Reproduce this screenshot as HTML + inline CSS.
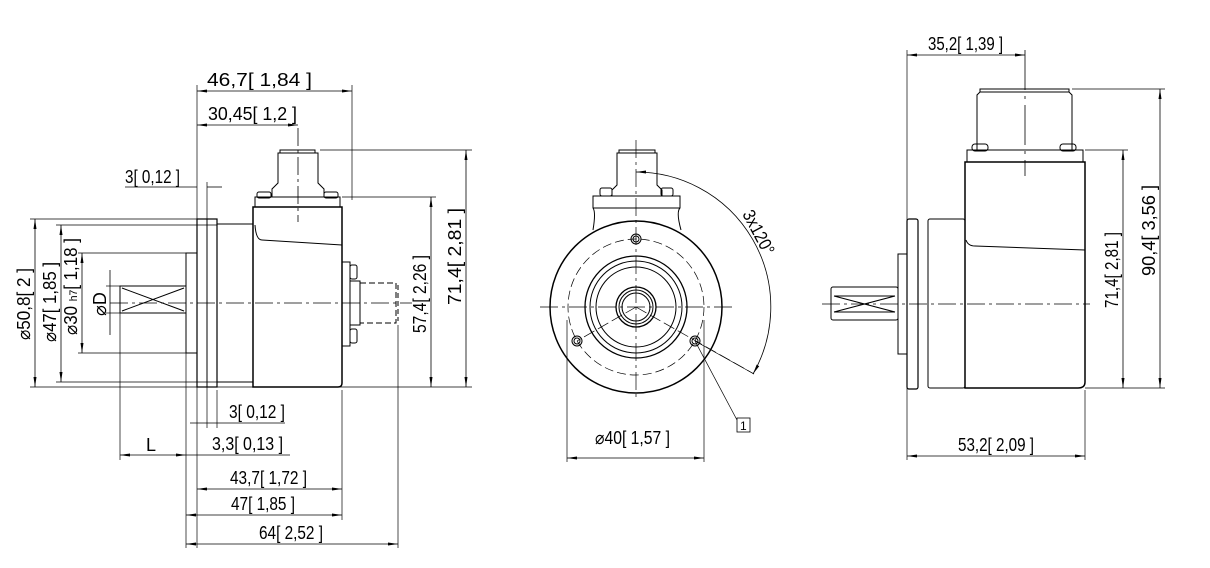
<!DOCTYPE html>
<html><head><meta charset="utf-8"><style>
html,body{margin:0;padding:0;background:#fff;}
svg{display:block;font-family:"Liberation Sans",sans-serif;}
</style></head><body>
<svg width="1210" height="568" viewBox="0 0 1210 568" xmlns="http://www.w3.org/2000/svg">
<defs>
<marker id="a" markerWidth="10" markerHeight="6" refX="10" refY="3" orient="auto-start-reverse" markerUnits="userSpaceOnUse"><path d="M0,1.5 L10,3 L0,4.5 Z" fill="#000"/></marker>
</defs>
<g fill="none" stroke="#000" stroke-width="1">
<!-- LEFT VIEW -->
<line x1="110" y1="303" x2="412" y2="303" stroke-dasharray="18,4,3,4" stroke-width="0.8"/>
<rect x="120" y="286" width="66" height="27"/>
<line x1="122" y1="288" x2="184" y2="311"/><line x1="122" y1="311" x2="184" y2="288"/>
<rect x="186" y="253" width="11" height="100"/>
<rect x="197" y="219" width="20" height="168" stroke-width="1.2"/>
<line x1="207" y1="219" x2="207" y2="387"/>
<rect x="217" y="224" width="36" height="158"/>
<path d="M253,207 H342 V383 Q342,387 338,387 H253 Z" stroke-width="1.5"/>
<path d="M255,225 Q256,240 262,240 L342,245"/>
<rect x="255" y="197" width="85" height="10"/>
<rect x="257" y="192" width="14" height="6" rx="2"/><rect x="324" y="192" width="14" height="6" rx="2"/>
<path d="M272,197 V189 L278,183 V153 H318 V183 L324,189 V197"/>
<rect x="280" y="150" width="35" height="3"/>
<rect x="342" y="262" width="8" height="84"/>
<rect x="350" y="265" width="7" height="14" rx="2"/><rect x="350" y="329" width="7" height="14" rx="2"/>
<rect x="350" y="281" width="10" height="44"/>
<path d="M360,283 H396 V323 H360" stroke-dasharray="6,3"/>
<line x1="398" y1="285" x2="398" y2="321" stroke-dasharray="5,3"/>
<line x1="298" y1="128" x2="298" y2="222" stroke-dasharray="18,4,3,4" stroke-width="0.8"/>
<g stroke-width="0.7">
<line x1="197" y1="85" x2="197" y2="548"/><line x1="352" y1="85" x2="352" y2="200"/>
<line x1="207" y1="182" x2="207" y2="428"/><line x1="217" y1="390" x2="217" y2="428"/>
<line x1="186" y1="353" x2="186" y2="548"/><line x1="120" y1="313" x2="120" y2="460"/>
<line x1="342" y1="390" x2="342" y2="520"/><line x1="398" y1="325" x2="398" y2="548"/>
<line x1="320" y1="150" x2="472" y2="150"/><line x1="342" y1="197" x2="436" y2="197"/>
<line x1="30" y1="387" x2="472" y2="387"/><line x1="30" y1="219" x2="197" y2="219"/>
<line x1="56" y1="225" x2="217" y2="225"/><line x1="56" y1="382" x2="217" y2="382"/>
<line x1="78" y1="253" x2="186" y2="253"/><line x1="78" y1="353" x2="186" y2="353"/>
<line x1="106" y1="286" x2="120" y2="286"/><line x1="106" y1="313" x2="120" y2="313"/>
</g>
<g stroke-width="0.8" marker-start="url(#a)" marker-end="url(#a)">
<line x1="197" y1="91" x2="352" y2="91"/>
<line x1="197" y1="125" x2="298" y2="125"/>
<line x1="35" y1="219" x2="35" y2="387"/>
<line x1="61" y1="225" x2="61" y2="382"/>
<line x1="82" y1="253" x2="82" y2="353"/>
<line x1="431" y1="197" x2="431" y2="387"/>
<line x1="466" y1="150" x2="466" y2="387"/>
<line x1="197" y1="489" x2="342" y2="489"/>
<line x1="186" y1="515" x2="342" y2="515"/>
<line x1="186" y1="544" x2="398" y2="544"/>
<line x1="120" y1="455" x2="186" y2="455"/>
</g>
<g stroke-width="0.8">
<line x1="110" y1="270" x2="110" y2="335"/>
<line x1="125" y1="187" x2="197" y2="187"/><line x1="207" y1="187" x2="222" y2="187"/>
<line x1="186" y1="455" x2="290" y2="455"/>
<line x1="190" y1="423" x2="285" y2="423"/>
</g>
<!-- MIDDLE VIEW -->
<path d="M593,230 Q596,212 593,208 V196 H680 V208 Q676,212 681,230" />
<path d="M593,208 H680" />
<rect x="600" y="188" width="12" height="8" rx="2"/><rect x="661" y="188" width="12" height="8" rx="2"/>
<path d="M612,196 V190 L617,185 V153 H657 V185 L662,190 V196"/>
<rect x="619" y="150" width="36" height="3"/>
<circle cx="636" cy="307" r="86" fill="#fff" stroke-width="1.5"/>
<circle cx="636" cy="307" r="68" stroke-dasharray="9,4" stroke-width="0.7"/>
<circle cx="636" cy="307" r="51" stroke-width="1.3"/>
<circle cx="636" cy="307" r="46"/>
<circle cx="636" cy="307" r="40"/>
<circle cx="636" cy="307" r="20" stroke-width="1.3"/>
<circle cx="636" cy="307" r="17"/>
<circle cx="636" cy="307" r="14"/>
<circle cx="636" cy="239" r="5"/><circle cx="636" cy="239" r="3"/>
<circle cx="577" cy="341" r="5"/><circle cx="577" cy="341" r="3"/>
<circle cx="695" cy="341" r="5"/><circle cx="695" cy="341" r="3"/>
<g stroke-width="0.7">
<line x1="540" y1="307" x2="732" y2="307" stroke-dasharray="18,4,3,4"/>
<line x1="636" y1="140" x2="636" y2="400" stroke-dasharray="18,4,3,4"/>
<line x1="636" y1="307" x2="577" y2="341" stroke-dasharray="12,4"/>
<line x1="636" y1="307" x2="754" y2="374" stroke-dasharray="12,4"/>
<line x1="695" y1="341" x2="754" y2="374"/>
<line x1="695" y1="341" x2="737" y2="420"/>
<line x1="567" y1="320" x2="567" y2="462"/><line x1="704" y1="320" x2="704" y2="462"/>
</g>
<path d="M636,172 A135,135 0 0 1 753,374" stroke-width="0.8" marker-start="url(#a)" marker-end="url(#a)"/>
<line x1="567" y1="458" x2="704" y2="458" stroke-width="0.8" marker-start="url(#a)" marker-end="url(#a)"/>
<rect x="737" y="418" width="13" height="14" stroke-width="0.8"/>
<!-- RIGHT VIEW -->
<line x1="822" y1="304" x2="1090" y2="304" stroke-dasharray="18,4,3,4" stroke-width="0.8"/>
<line x1="1025" y1="50" x2="1025" y2="176" stroke-dasharray="40,6,3,6" stroke-width="0.8"/>
<rect x="831" y="287" width="67" height="33" rx="2"/>
<line x1="834" y1="296" x2="895" y2="312"/><line x1="834" y1="312" x2="895" y2="296"/>
<line x1="834" y1="296" x2="895" y2="296"/><line x1="834" y1="312" x2="895" y2="312"/>
<rect x="898" y="254" width="9" height="100"/>
<rect x="907" y="219" width="11" height="170" rx="2" stroke-width="1.2"/>
<rect x="928" y="219" width="37" height="169" rx="2"/>
<path d="M965,162 H1085 V382 Q1085,388 1078,388 H965 Z" stroke-width="1.5"/>
<path d="M966,240 Q968,246 975,246 L1085,250"/>
<rect x="967" y="150" width="116" height="12"/>
<rect x="972" y="144" width="16" height="7" rx="3"/><rect x="1060" y="144" width="16" height="7" rx="3"/>
<path d="M977,150 V95 L980,92 H1069 L1072,95 V150"/>
<rect x="980" y="89" width="89" height="3"/>
<g stroke-width="0.7">
<line x1="907" y1="50" x2="907" y2="460"/><line x1="1085" y1="390" x2="1085" y2="460"/>
<line x1="1072" y1="89" x2="1165" y2="89"/><line x1="1085" y1="150" x2="1128" y2="150"/>
<line x1="1085" y1="388" x2="1165" y2="388"/>
</g>
<g stroke-width="0.8" marker-start="url(#a)" marker-end="url(#a)">
<line x1="907" y1="55" x2="1025" y2="55"/>
<line x1="1123" y1="150" x2="1123" y2="388"/>
<line x1="1160" y1="89" x2="1160" y2="388"/>
<line x1="907" y1="456" x2="1085" y2="456"/>
</g>
</g>
<g style="font-size:18px" fill="#000">
<text x="207" y="86" textLength="105" lengthAdjust="spacingAndGlyphs">46,7[ 1,84 ]</text>
<text x="208" y="120" textLength="89" lengthAdjust="spacingAndGlyphs">30,45[ 1,2 ]</text>
<text x="125" y="183" textLength="55" lengthAdjust="spacingAndGlyphs">3[ 0,12 ]</text>
<text x="229" y="418" textLength="56" lengthAdjust="spacingAndGlyphs">3[ 0,12 ]</text>
<text x="146" y="451">L</text>
<text x="212" y="450" textLength="71" lengthAdjust="spacingAndGlyphs">3,3[ 0,13 ]</text>
<text x="230" y="484" textLength="77" lengthAdjust="spacingAndGlyphs">43,7[ 1,72 ]</text>
<text x="231" y="510" textLength="64" lengthAdjust="spacingAndGlyphs">47[ 1,85 ]</text>
<text x="259" y="539" textLength="64" lengthAdjust="spacingAndGlyphs">64[ 2,52 ]</text>
<text transform="translate(30,340) rotate(-90)" textLength="72" lengthAdjust="spacingAndGlyphs">⌀50,8[ 2 ]</text>
<text transform="translate(56,342) rotate(-90)" textLength="80" lengthAdjust="spacingAndGlyphs">⌀47[ 1,85 ]</text>
<text transform="translate(77,335) rotate(-90)" textLength="97" lengthAdjust="spacingAndGlyphs">⌀30 <tspan style="font-size:11px">h7</tspan>[ 1,18 ]</text>
<text transform="translate(106,316) rotate(-90)">⌀D</text>
<text transform="translate(426,333) rotate(-90)" textLength="78" lengthAdjust="spacingAndGlyphs">57,4[ 2,26 ]</text>
<text transform="translate(461,305) rotate(-90)" textLength="97" lengthAdjust="spacingAndGlyphs">71,4[ 2,81 ]</text>
<text x="595" y="444" textLength="75" lengthAdjust="spacingAndGlyphs">⌀40[ 1,57 ]</text>
<text transform="translate(742,214) rotate(62)" textLength="48" lengthAdjust="spacingAndGlyphs">3x120°</text>
<text x="740" y="430" style="font-size:12px">1</text>
<text x="928" y="50" textLength="75" lengthAdjust="spacingAndGlyphs">35,2[ 1,39 ]</text>
<text x="958" y="451" textLength="76" lengthAdjust="spacingAndGlyphs">53,2[ 2,09 ]</text>
<text transform="translate(1118,308) rotate(-90)" textLength="76" lengthAdjust="spacingAndGlyphs">71,4[ 2,81 ]</text>
<text transform="translate(1155,276) rotate(-90)" textLength="91" lengthAdjust="spacingAndGlyphs">90,4[ 3,56 ]</text>
</g>
</svg>
</body></html>
